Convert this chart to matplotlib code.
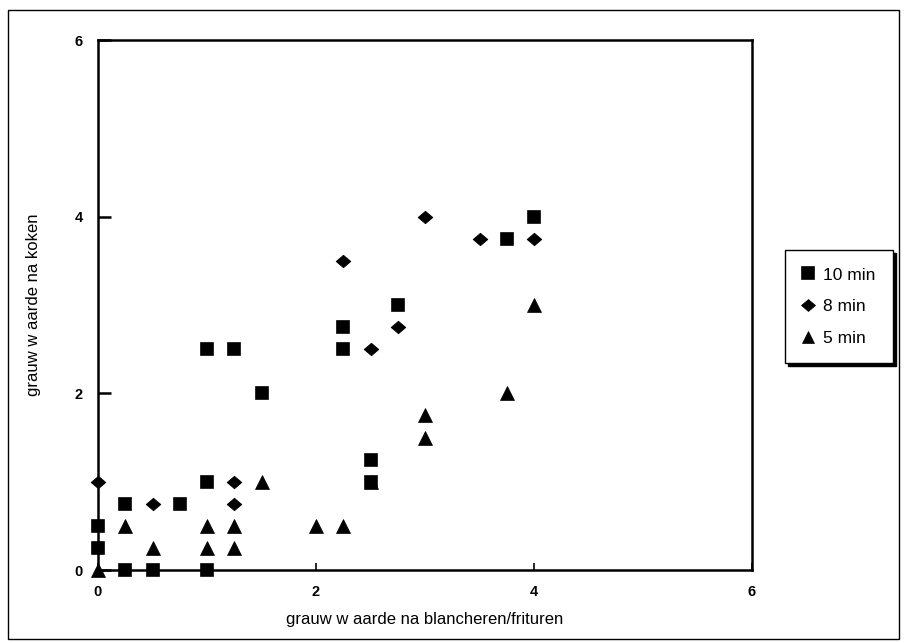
import matplotlib
matplotlib.use("Agg")
import matplotlib.pyplot as plt
from matplotlib.patches import Rectangle
from matplotlib.path import Path

plt.rcParams['font.family'] = ['Liberation Sans', 'DejaVu Sans']

# 10 min series (squares)
x10 = [0, 0, 0.25, 0.5, 1.0, 0.25, 0.75, 1.0, 1.0, 1.25, 1.5, 2.25, 2.25, 2.5, 2.5, 2.75, 3.75, 4.0]
y10 = [0.5, 0.25, 0, 0, 0, 0.75, 0.75, 1.0, 2.5, 2.5, 2.0, 2.5, 2.75, 1.25, 1.0, 3.0, 3.75, 4.0]
# 8 min series (diamonds)
x8 = [0, 0.5, 1.25, 1.25, 2.25, 2.5, 2.75, 3.0, 3.5, 4.0]
y8 = [1.0, 0.75, 1.0, 0.75, 3.5, 2.5, 2.75, 4.0, 3.75, 3.75]
# 5 min series (triangles)
x5 = [0, 0.25, 0.5, 1.0, 1.0, 1.25, 1.25, 1.5, 2.0, 2.25, 2.5, 3.0, 3.0, 3.75, 4.0]
y5 = [0, 0.5, 0.25, 0.5, 0.25, 0.5, 0.25, 1.0, 0.5, 0.5, 1.0, 1.5, 1.75, 2.0, 3.0]

series_labels = ["10 min", "8 min", "5 min"]
ticks = [0, 2, 4, 6]
xlabel = "grauw w aarde na blancheren/frituren"
ylabel = "grauw w aarde na koken"

W, H = 909, 643
fig = plt.figure(figsize=(W / 100, H / 100), dpi=100)

# outer frame
fig.patches.append(Rectangle((8 / W, 1 - 639 / H), (899 - 8) / W, (639 - 10) / H,
                             transform=fig.transFigure, fill=False, lw=1.0,
                             ec='black'))

ax = fig.add_axes([98 / W, 1 - 570 / H, (752 - 98) / W, (570 - 40) / H])
ax.set_xlim(0, 6)
ax.set_ylim(0, 6)

diamond = Path([(-1, 0), (0, 0.85), (1, 0), (0, -0.85), (-1, 0)],
               [Path.MOVETO, Path.LINETO, Path.LINETO, Path.LINETO, Path.CLOSEPOLY])

kw = dict(ls='none', color='black', clip_on=False, zorder=3, mec='black')
l1, = ax.plot(x10, y10, marker='s', ms=9.2, mew=1.2,
              label=series_labels[0], **kw)
l2, = ax.plot(x8, y8, marker=diamond, ms=10.5, mew=0.6,
              label=series_labels[1], **kw)
l3, = ax.plot(x5, y5, marker='^', ms=9.5, mew=0.5,
              label=series_labels[2], **kw)

for s in ax.spines.values():
    s.set_linewidth(1.8)

ax.set_xticks(ticks)
ax.set_yticks(ticks)
ax.tick_params(axis='x', direction='in', length=5, width=1.2, pad=11,
               labelsize=10.5)
ax.tick_params(axis='y', direction='in', length=9, width=1.8, pad=11,
               labelsize=10.5)
for t in ax.get_xticklabels() + ax.get_yticklabels():
    t.set_fontweight('bold')

ax.set_xlabel(xlabel, fontsize=12, labelpad=9)
ax.set_ylabel(ylabel, fontsize=12, labelpad=24)

leg = fig.legend(handles=[l1, l2, l3], loc='upper left',
                 bbox_to_anchor=(785 / W, 1 - 250 / H), borderaxespad=0,
                 frameon=True, fancybox=False, shadow=False, fontsize=12.5,
                 handlelength=0.6, handletextpad=0.6, labelspacing=0.95,
                 borderpad=1.0, markerscale=0.95, framealpha=1)
frame = leg.get_frame()
frame.set_edgecolor('black')
frame.set_facecolor('white')
frame.set_linewidth(1.0)
leg.set_zorder(5)
fig.canvas.draw()
bb = leg.get_window_extent()
# shadow
fig.patches.append(Rectangle(((bb.x0 + 3) / W, (bb.y0 - 3) / H), bb.width / W, bb.height / H,
                             transform=fig.transFigure, fc='black', ec='black',
                             zorder=0))

fig.savefig("out.png", dpi=100)
